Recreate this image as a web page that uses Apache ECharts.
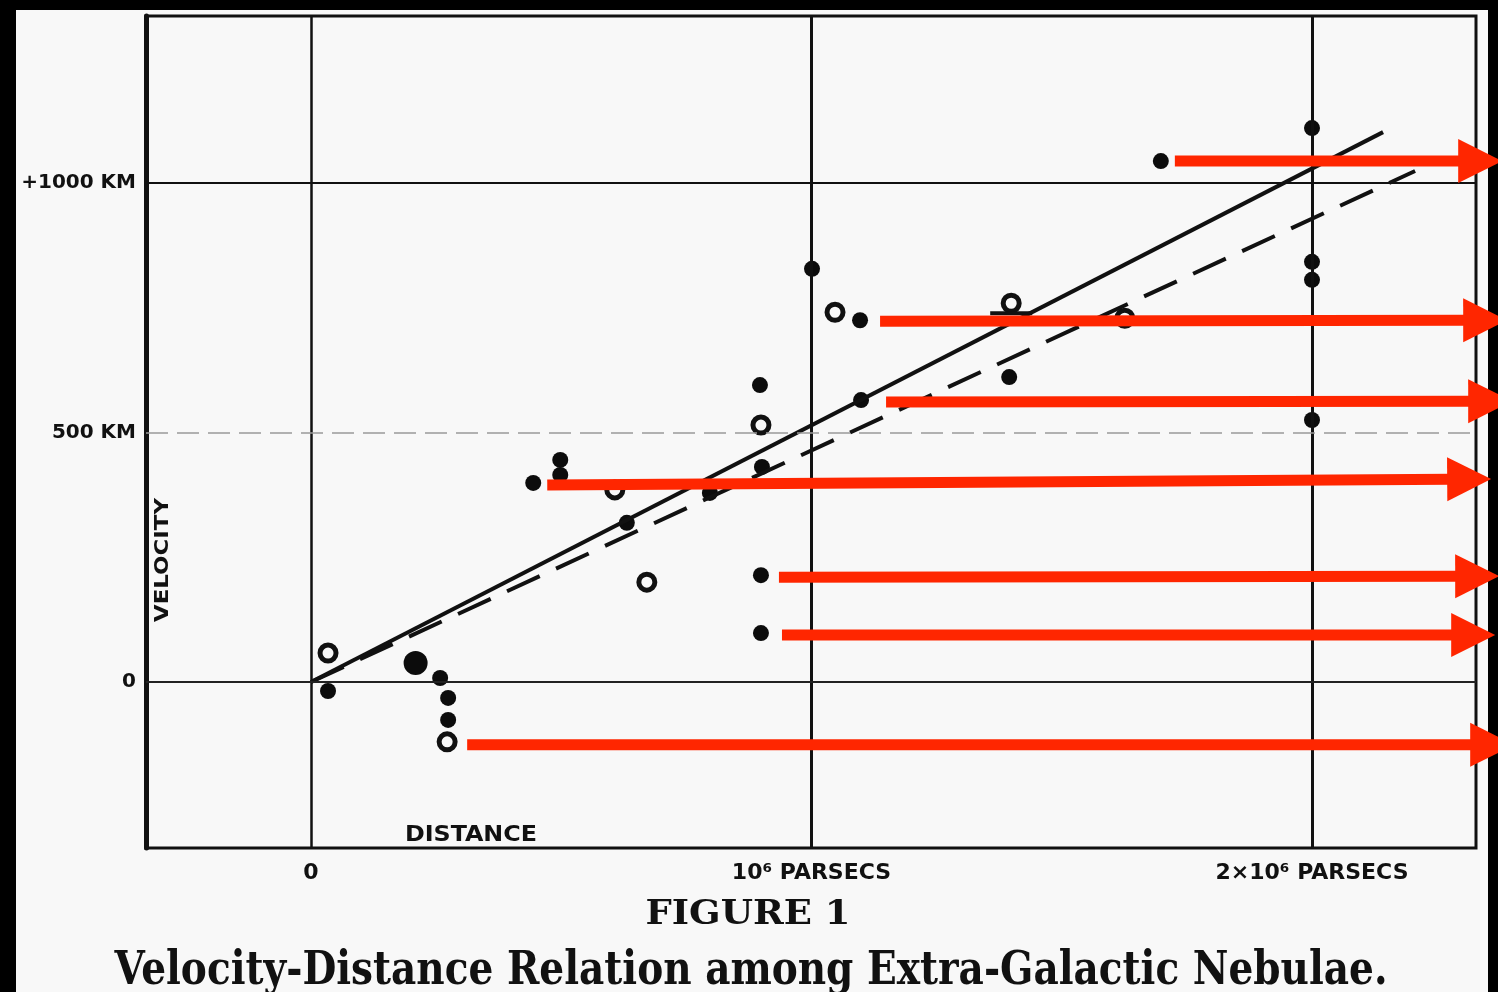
<!DOCTYPE html>
<html>
<head>
<meta charset="utf-8">
<script src="https://cdn.jsdelivr.net/npm/echarts@6/dist/echarts.min.js"></script>
<style>
html,body{margin:0;padding:0;background:#000;width:1498px;height:992px;overflow:hidden}
#paper{position:absolute;left:16px;top:10px;width:1472px;height:982px;background:#f8f8f8}
#chart{position:absolute;left:0;top:0;width:1498px;height:992px}
</style>
</head>
<body>
<div id="paper"></div>
<div id="chart"></div>
<script>
// ---- data (distance in 10^6 parsecs, velocity in km/s) ----
const xTicks = [0, 1, 2];
const xTickLabels = ['0', '10⁶ PARSECS', '2×10⁶ PARSECS'];
const yTicks = [0, 500, 1000];
const yTickLabels = ['0', '500 KM', '+1000 KM'];

const nebulae = [
  [0.034, -18], [0.258, 8], [0.274, -32], [0.274, -76],
  [0.444, 399], [0.498, 445], [0.498, 415], [0.631, 319],
  [0.797, 379], [0.897, 595], [0.901, 431], [0.899, 214],
  [0.899, 98], [1.001, 828], [1.097, 725], [1.099, 565],
  [1.395, 611], [1.698, 1044], [2.0, 1110], [2.0, 842],
  [2.0, 806], [2.0, 525]
];
const largeNebula = [[0.209, 38]];
const groups = [
  [0.034, 58], [0.272, -120], [0.607, 385], [0.671, 200],
  [0.899, 515], [1.047, 741], [1.399, 759], [1.626, 729]
];
const groupBar = [[1.399, 739]];
const solidFit = [[0, 0], [2.142, 1102]];
const dashedFit = [[0, 0], [2.206, 1024]];

// arrows: [xStart, yStart, xTip, yTip]
const arrows = [
  [1.726, 1044, 2.380, 1044],
  [1.137, 723, 2.390, 725],
  [1.149, 561, 2.400, 563],
  [0.472, 395, 2.358, 407],
  [0.935, 210, 2.374, 212],
  [0.941, 94, 2.366, 94],
  [0.312, -126, 2.404, -126]
];

const xRange = [-0.3297, 2.3277];
const yRange = [-332.7, 1334.7];

// ---- helpers ----
const SANS = "'DejaVu Sans Condensed', 'Liberation Sans Narrow', sans-serif";
const SANSW = "'DejaVu Sans', 'Liberation Sans', sans-serif";
const SERIF = "'DejaVu Serif', 'Liberation Serif', serif";
const mctx = document.createElement('canvas').getContext('2d');
function fitScale(text, font, target) {
  mctx.font = font;
  return target / mctx.measureText(text).width;
}
function scaledText(text, x, y, fam, size, weight, target, rot) {
  const font = weight + ' ' + size + 'px ' + fam;
  const s = fitScale(text, font, target);
  return {
    type: 'text', x: x, y: y, rotation: rot || 0, scaleX: s, z: 10,
    style: { text: text, fill: '#111', font: font, align: 'center', verticalAlign: 'middle' }
  };
}

const chart = echarts.init(document.getElementById('chart'), null, { renderer: 'canvas' });
const RED = '#ff2600';

const option = {
  backgroundColor: 'transparent',
  animation: false,
  grid: {
    left: 146, top: 16, width: 1330, height: 832,
    show: true, borderColor: '#111', borderWidth: 3, backgroundColor: 'transparent'
  },
  xAxis: {
    type: 'value', min: xRange[0], max: xRange[1],
    axisLine: { show: false, onZero: false },
    axisTick: { show: false },
    splitLine: { show: false },
    axisLabel: {
      customValues: xTicks,
      formatter: v => xTickLabels[xTicks.indexOf(Math.round(v))] || '',
      margin: 14, color: '#111', fontFamily: SANSW, fontWeight: 'bold', fontSize: 22
    }
  },
  yAxis: {
    type: 'value', min: yRange[0], max: yRange[1],
    axisLine: { show: true, onZero: false, lineStyle: { color: '#111', width: 5 } },
    axisTick: { show: false },
    splitLine: { show: false },
    axisLabel: {
      customValues: yTicks,
      formatter: v => yTickLabels[yTicks.indexOf(Math.round(v))] || '',
      margin: 10, color: '#111', fontFamily: SANSW, fontWeight: 'bold', fontSize: 20
    }
  },
  graphic: [
    scaledText('DISTANCE', 471, 835, SANS, 22, 'bold', 132),
    scaledText('VELOCITY', 163, 560, SANS, 20, 'bold', 124, Math.PI / 2),
    scaledText('FIGURE 1', 748, 915, SERIF, 33, 'bold', 205),
    scaledText('Velocity-Distance Relation among Extra-Galactic Nebulae.', 751, 972, SERIF, 46, 'bold', 1273)
  ],
  series: [
    {
      name: 'grid', type: 'scatter', data: [], silent: true,
      markLine: {
        silent: true, symbol: ['none', 'none'], label: { show: false },
        animation: false,
        data: [
          { xAxis: xTicks[0], lineStyle: { color: '#111', width: 2.5, type: 'solid' } },
          { xAxis: xTicks[1], lineStyle: { color: '#111', width: 3, type: 'solid' } },
          { xAxis: xTicks[2], lineStyle: { color: '#111', width: 3, type: 'solid' } },
          { yAxis: yTicks[0], lineStyle: { color: '#222', width: 2, type: 'solid' } },
          { yAxis: yTicks[1], lineStyle: { color: '#999', width: 1.5, type: [22, 9] } },
          { yAxis: yTicks[2], lineStyle: { color: '#111', width: 2, type: 'solid' } }
        ]
      }
    },
    {
      name: 'dashed fit', type: 'line', data: dashedFit, symbol: 'none',
      lineStyle: { color: '#111', width: 4, type: [36, 18] }
    },
    {
      name: 'solid fit', type: 'line', data: solidFit, symbol: 'none',
      lineStyle: { color: '#111', width: 4 }
    },
    {
      name: 'groups', type: 'scatter', data: groups, symbol: 'circle', symbolSize: 16,
      itemStyle: { color: '#f8f8f8', borderColor: '#111', borderWidth: 5, opacity: 1 }
    },
    {
      name: 'group bar', type: 'scatter', data: groupBar, symbol: 'rect', symbolSize: [42, 4],
      itemStyle: { color: '#111', opacity: 1 }
    },
    {
      name: 'nebulae', type: 'scatter', data: nebulae, symbol: 'circle', symbolSize: 16,
      itemStyle: { color: '#0c0c0c', opacity: 1 }
    },
    {
      name: 'large nebula', type: 'scatter', data: largeNebula, symbol: 'circle', symbolSize: 24,
      itemStyle: { color: '#0c0c0c', opacity: 1 }
    },
    {
      name: 'arrows', type: 'custom', data: arrows, clip: false, silent: true, z: 20,
      renderItem: function (params, api) {
        const s = api.coord([api.value(0), api.value(1)]);
        const t = api.coord([api.value(2), api.value(3)]);
        const ang = Math.atan2(t[1] - s[1], t[0] - s[0]);
        const L = 44, H = 22;
        const c = Math.cos(ang), sn = Math.sin(ang);
        const bx = t[0] - L * c, by = t[1] - L * sn;
        const nx = -sn * H, ny = c * H;
        return {
          type: 'group',
          children: [
            { type: 'line', shape: { x1: s[0], y1: s[1], x2: bx + 4 * c, y2: by + 4 * sn },
              style: { stroke: RED, lineWidth: 11, lineCap: 'butt' } },
            { type: 'polygon', shape: { points: [[t[0], t[1]], [bx + nx, by + ny], [bx - nx, by - ny]] },
              style: { fill: RED } }
          ]
        };
      }
    }
  ]
};
chart.setOption(option);
</script>
</body>
</html>
